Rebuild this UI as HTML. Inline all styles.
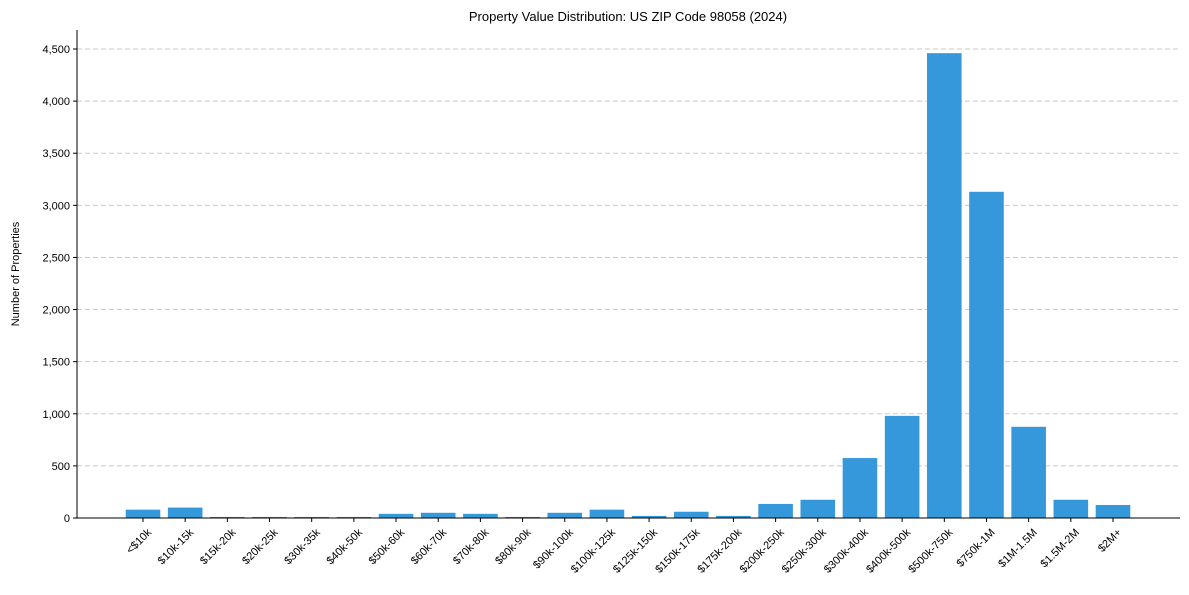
<!DOCTYPE html>
<html><head><meta charset="utf-8"><style>
body{margin:0;background:#fff;}
svg text{font-family:"Liberation Sans",Arial,sans-serif;fill:#000;}
</style></head><body>
<svg id="c" width="1189" height="590"></svg>
<script>
const categories=["<$10k","$10k-15k","$15k-20k","$20k-25k","$30k-35k","$40k-50k","$50k-60k","$60k-70k","$70k-80k","$80k-90k","$90k-100k","$100k-125k","$125k-150k","$150k-175k","$175k-200k","$200k-250k","$250k-300k","$300k-400k","$400k-500k","$500k-750k","$750k-1M","$1M-1.5M","$1.5M-2M","$2M+"];
const values=[80,100,10,10,10,10,40,50,40,10,50,80,20,60,20,135,175,575,980,4460,3130,875,175,125];
const yTicks=[0,500,1000,1500,2000,2500,3000,3500,4000,4500];
const yTickLabels=["0","500","1,000","1,500","2,000","2,500","3,000","3,500","4,000","4,500"];
const NS="http://www.w3.org/2000/svg";
const svg=document.getElementById('c');
const L=77,R=1180,T=30,B=518;
const first=143,step=(1113-143)/(categories.length-1);
const x=i=>first+i*step;
const y=v=>B-v*(B-49)/4500;
function mk(t,a){const e=document.createElementNS(NS,t);for(const k in a)e.setAttribute(k,a[k]);svg.appendChild(e);return e;}
yTicks.forEach((v,i)=>{
  if(v>0){const g=mk('line',{x1:L,x2:R,y1:y(v),y2:y(v),stroke:'#c8c8c8','stroke-dasharray':'5,3','stroke-width':1});
  
  }
  const tk=mk('line',{x1:L-4,x2:L,y1:y(v),y2:y(v),stroke:'#000'});
  
  
  const t=mk('text',{x:L-7,y:y(v)+4,'text-anchor':'end','font-size':11});
  t.textContent=yTickLabels[i];
  
  
});
const bw=step*0.82;
values.forEach((v,i)=>{
  const r=mk('rect',{x:x(i)-bw/2,y:y(v),width:bw,height:B-y(v),fill:'#3498db'});
  
  
});
categories.forEach((c,i)=>{
  const tk=mk('line',{x1:x(i),x2:x(i),y1:B,y2:B+4,stroke:'#000'});
  
  
  const lx=x(i)+9,ly=B+15;
  const t=mk('text',{x:lx,y:ly,'text-anchor':'end','font-size':11,transform:`rotate(-45 ${lx} ${ly})`});
  t.textContent=c;
  
  
});
const a1=mk('line',{x1:L,x2:L,y1:T,y2:B,stroke:'#000'});


const a2=mk('line',{x1:L,x2:R,y1:B,y2:B,stroke:'#000'});


const ti=mk('text',{x:628,y:21,'text-anchor':'middle','font-size':13});
ti.textContent='Property Value Distribution: US ZIP Code 98058 (2024)';


const yl=mk('text',{x:19,y:274,'text-anchor':'middle','font-size':11,transform:'rotate(-90 19 274)'});
yl.textContent='Number of Properties';


</script>
</body></html>
